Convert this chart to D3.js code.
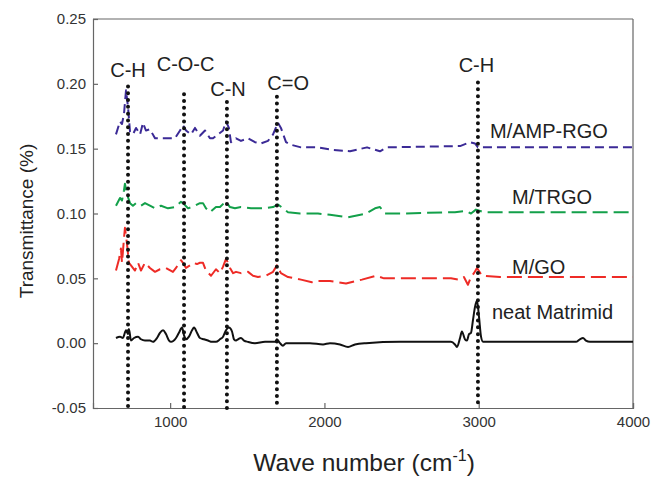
<!DOCTYPE html>
<html>
<head>
<meta charset="utf-8">
<script src="https://cdn.jsdelivr.net/npm/d3@7"></script>
<style>
  body { margin: 0; background: #fff; }
  text { font-family: "Liberation Sans", Arial, sans-serif; }
</style>
</head>
<body>
<svg id="chart"></svg>
<script>
// Spectra as [wave number, transmittance] pairs
const neatMatrimid = [
  [649, 0.004], [675, 0.005], [694, 0.004], [714, 0.010], [727, 0.007], [733, 0.011],
  [746, 0.002], [766, 0.004], [792, 0.005], [811, 0.003], [837, 0.002], [869, 0.002],
  [889, 0.001], [915, 0.004], [934, 0.008], [954, 0.010], [973, 0.007], [993, 0.002],
  [1006, 0.001], [1038, 0.004], [1057, 0.008], [1077, 0.012], [1090, 0.006], [1103, 0.003],
  [1122, 0.005], [1142, 0.010], [1155, 0.012], [1174, 0.008], [1193, 0.004], [1219, 0.003],
  [1245, 0.002], [1271, 0.001], [1297, 0.001], [1323, 0.003], [1343, 0.005], [1362, 0.010],
  [1381, 0.012], [1401, 0.009], [1414, 0.003], [1427, 0.002], [1440, 0.003], [1459, 0.004],
  [1479, 0.002], [1505, 0.001], [1550, 0.000], [1615, 0.001], [1680, 0.001], [1692, 0.003],
  [1712, 0.000], [1731, -0.002], [1751, 0.000], [1809, 0.000], [1906, 0.000], [1991, -0.001],
  [2036, 0.000], [2101, -0.001], [2153, -0.003], [2198, -0.001], [2269, 0.000], [2490, 0.001],
  [2749, 0.001], [2820, 0.001], [2846, -0.001], [2859, -0.003], [2879, 0.004], [2891, 0.009],
  [2911, 0.003], [2924, 0.002], [2937, 0.007], [2950, 0.008], [2963, 0.018], [2976, 0.028],
  [2989, 0.033], [3002, 0.020], [3015, 0.005], [3028, 0.001], [3138, 0.001], [3630, 0.001],
  [3656, 0.003], [3676, 0.004], [3695, 0.002], [3721, 0.001], [4000, 0.001]
];

const mGO = [
  [649, 0.056], [669, 0.065], [681, 0.073], [688, 0.062], [701, 0.081], [707, 0.089],
  [720, 0.077], [733, 0.062], [746, 0.060], [772, 0.056], [792, 0.062], [811, 0.056],
  [837, 0.062], [869, 0.058], [902, 0.055], [934, 0.057], [973, 0.058], [1018, 0.055],
  [1038, 0.058], [1070, 0.064], [1083, 0.062], [1103, 0.058], [1129, 0.060], [1148, 0.062],
  [1174, 0.061], [1193, 0.062], [1213, 0.062], [1232, 0.056], [1265, 0.052], [1297, 0.057],
  [1323, 0.054], [1343, 0.059], [1362, 0.065], [1375, 0.062], [1388, 0.058], [1408, 0.054],
  [1427, 0.055], [1459, 0.054], [1505, 0.055], [1537, 0.052], [1569, 0.051], [1621, 0.052],
  [1667, 0.055], [1692, 0.060], [1718, 0.054], [1764, 0.051], [1809, 0.050], [1848, 0.049],
  [1919, 0.047], [1958, 0.048], [2036, 0.048], [2140, 0.046], [2243, 0.049], [2334, 0.052],
  [2386, 0.050], [2496, 0.050], [2820, 0.050], [2872, 0.049], [2904, 0.051], [2930, 0.045],
  [2950, 0.051], [2969, 0.054], [2989, 0.058], [3021, 0.052], [3138, 0.051], [4000, 0.051]
];

const mTRGO = [
  [649, 0.106], [675, 0.112], [688, 0.110], [701, 0.118], [707, 0.123], [720, 0.115],
  [740, 0.108], [759, 0.106], [779, 0.108], [811, 0.106], [837, 0.108], [869, 0.106],
  [902, 0.104], [941, 0.106], [986, 0.104], [1031, 0.105], [1070, 0.109], [1083, 0.108],
  [1116, 0.104], [1161, 0.106], [1193, 0.108], [1213, 0.108], [1232, 0.104], [1258, 0.101],
  [1297, 0.105], [1323, 0.105], [1349, 0.108], [1362, 0.109], [1388, 0.105], [1420, 0.104],
  [1459, 0.105], [1524, 0.104], [1615, 0.104], [1667, 0.105], [1699, 0.107], [1731, 0.104],
  [1764, 0.101], [1842, 0.100], [1958, 0.100], [2036, 0.099], [2153, 0.097], [2269, 0.100],
  [2328, 0.104], [2360, 0.105], [2392, 0.100], [2496, 0.100], [2846, 0.101], [2917, 0.102],
  [2950, 0.100], [2982, 0.103], [3034, 0.101], [4000, 0.101]
];

const mAMPRGO = [
  [649, 0.161], [675, 0.171], [688, 0.169], [701, 0.177], [714, 0.195], [727, 0.182],
  [740, 0.163], [759, 0.161], [779, 0.166], [805, 0.161], [824, 0.170], [843, 0.164],
  [869, 0.165], [902, 0.158], [941, 0.158], [986, 0.158], [1031, 0.158], [1064, 0.164],
  [1083, 0.168], [1103, 0.164], [1135, 0.161], [1161, 0.166], [1193, 0.160], [1226, 0.164],
  [1258, 0.158], [1278, 0.158], [1310, 0.161], [1343, 0.164], [1362, 0.171], [1381, 0.166],
  [1394, 0.155], [1427, 0.158], [1459, 0.156], [1505, 0.158], [1550, 0.155], [1589, 0.154],
  [1634, 0.156], [1667, 0.161], [1699, 0.170], [1718, 0.166], [1751, 0.155], [1783, 0.153],
  [1848, 0.151], [1958, 0.151], [2055, 0.149], [2166, 0.148], [2276, 0.151], [2360, 0.148],
  [2405, 0.151], [2879, 0.152], [2943, 0.155], [2976, 0.154], [2995, 0.151], [4000, 0.151]
];

// Series labels and styles
const seriesNames = ["neat Matrimid", "M/GO", "M/TRGO", "M/AMP-RGO"];
const seriesData = [neatMatrimid, mGO, mTRGO, mAMPRGO];
const seriesColors = ["#111111", "#ee2b26", "#13a04a", "#3b2a96"];
const seriesDash = [null, "15,6", "15,6", "9,5"];
// label anchor: [wave number, transmittance]
const seriesLabelPos = [[3086, 0.019], [3216, 0.053], [3216, 0.107], [3073, 0.158]];

// Band assignments (dotted markers)
const bandNames = ["C-H", "C-O-C", "C-N", "C=O", "C-H"];
const bandWave = [727, 1090, 1368, 1692, 2995];
const bandTop = [0.198, 0.192, 0.186, 0.190, 0.201];
const bandLabelWave = [727, 1100, 1375, 1765, 2985];
const bandLabelY = [0.205, 0.210, 0.191, 0.195, 0.209];

// Axis ticks
const xTicks = [1000, 2000, 3000, 4000];
const yTicks = [-0.05, 0, 0.05, 0.10, 0.15, 0.20, 0.25];

const totalWidth = 652, totalHeight = 480;
const margin = { top: 19, right: 19, bottom: 72, left: 93 };
const width = totalWidth - margin.left - margin.right;
const height = totalHeight - margin.top - margin.bottom;

const svg = d3.select("#chart")
  .attr("width", totalWidth)
  .attr("height", totalHeight);

const g = svg.append("g")
  .attr("transform", "translate(" + margin.left + "," + margin.top + ")");

// Scales
const xScale = d3.scaleLinear().domain([500, 4000]).range([0, width]);
const yScale = d3.scaleLinear().domain([-0.05, 0.25]).range([height, 0]);

// Axes (ticks point inward)
const xAxis = d3.axisBottom(xScale)
  .tickValues(xTicks)
  .tickFormat(d3.format("d"))
  .tickSize(-5)
  .tickPadding(8);

const yAxis = d3.axisLeft(yScale)
  .tickValues(yTicks)
  .tickFormat(d => d.toFixed(2))
  .tickSize(-5)
  .tickPadding(7);

const gx = g.append("g")
  .attr("transform", "translate(0," + height + ")")
  .call(xAxis);

const gy = g.append("g").call(yAxis);

[gx, gy].forEach(ax => {
  ax.selectAll("path, line").attr("stroke", "#666").attr("stroke-width", 1.2);
  ax.selectAll("text")
    .attr("fill", "#333")
    .style("font-size", "15px")
    .style("font-family", "'Liberation Sans', Arial, sans-serif");
});

// top and right frame
g.append("line").attr("x1", 0).attr("x2", width).attr("y1", 0).attr("y2", 0)
  .attr("stroke", "#666").attr("stroke-width", 1.2);
g.append("line").attr("x1", width).attr("x2", width).attr("y1", 0).attr("y2", height)
  .attr("stroke", "#666").attr("stroke-width", 1.2);

// Spectra
const line = d3.line()
  .x(d => xScale(d[0]))
  .y(d => yScale(d[1]));

seriesData.forEach((data, i) => {
  g.append("path")
    .datum(data)
    .attr("fill", "none")
    .attr("stroke", seriesColors[i])
    .attr("stroke-width", 2)
    .attr("stroke-linejoin", "round")
    .attr("stroke-dasharray", seriesDash[i])
    .attr("d", i === 0 ? line.curve(d3.curveMonotoneX)(data) : line.curve(d3.curveLinear)(data));

  g.append("text")
    .attr("x", xScale(seriesLabelPos[i][0]))
    .attr("y", yScale(seriesLabelPos[i][1]))
    .attr("fill", "#222")
    .style("font-size", "20px")
    .text(seriesNames[i]);
});

// Dotted band markers
bandWave.forEach((w, i) => {
  g.append("line")
    .attr("x1", xScale(w)).attr("x2", xScale(w))
    .attr("y1", yScale(bandTop[i])).attr("y2", height)
    .attr("stroke", "#111")
    .attr("stroke-width", 4)
    .attr("stroke-linecap", "round")
    .attr("stroke-dasharray", "0,6.8");

  g.append("text")
    .attr("x", xScale(bandLabelWave[i]))
    .attr("y", yScale(bandLabelY[i]))
    .attr("text-anchor", "middle")
    .attr("fill", "#222")
    .style("font-size", "20px")
    .text(bandNames[i]);
});

// Axis titles
svg.append("text")
  .attr("transform", "translate(33,221) rotate(-90)")
  .attr("text-anchor", "middle")
  .attr("fill", "#222")
  .style("font-size", "19px")
  .text("Transmittance (%)");

const xt = svg.append("text")
  .attr("x", 364)
  .attr("y", 471)
  .attr("text-anchor", "middle")
  .attr("fill", "#222")
  .style("font-size", "24.5px");
xt.append("tspan").text("Wave number (cm");
xt.append("tspan").attr("dy", -10).style("font-size", "16px").text("-1");
xt.append("tspan").attr("dy", 10).text(")");
</script>
</body>
</html>
